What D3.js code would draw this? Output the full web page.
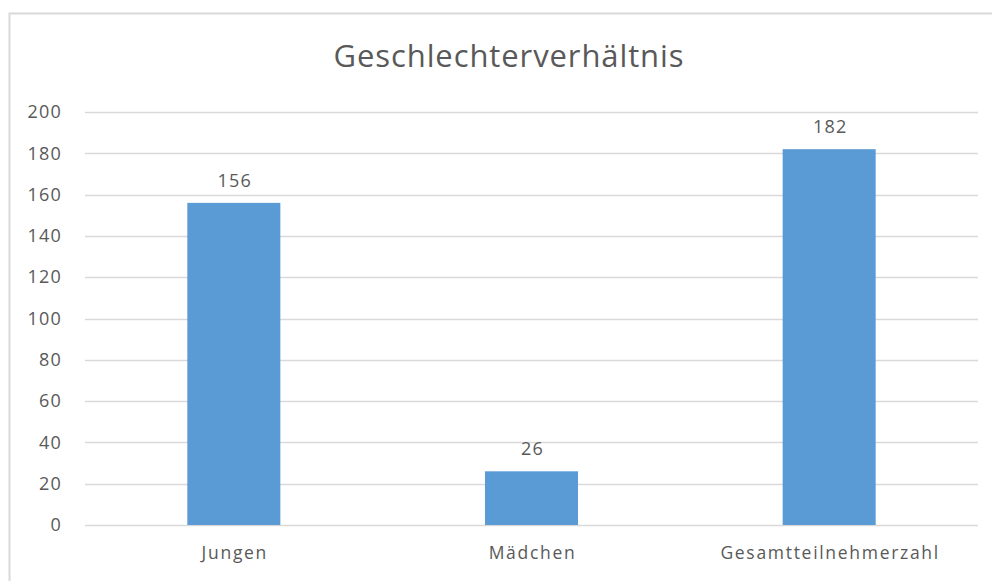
<!DOCTYPE html>
<html>
<head>
<meta charset="utf-8">
<script src="https://cdn.jsdelivr.net/npm/d3@7"></script>
<style>
  body { margin: 0; background: #fff; }
  svg text { font-family: "Open Sans", Lato, sans-serif; fill: #595959; }
</style>
</head>
<body>
<div id="chart"></div>
<script>
const categories = ['Jungen', 'Mädchen', 'Gesamtteilnehmerzahl']
const values = [156, 26, 182]
const yTicks = [0, 20, 40, 60, 80, 100, 120, 140, 160, 180, 200]
const title = 'Geschlechterverhältnis'

const width = 992
const height = 581
const margin = { top: 112, right: 14, bottom: 56, left: 85 }

const svg = d3.select('#chart').append('svg')
  .attr('width', width)
  .attr('height', height)

// chart frame, runs off the right and bottom edge
svg.append('rect')
  .attr('x', 9.5)
  .attr('y', 13.5)
  .attr('width', 1000)
  .attr('height', 600)
  .attr('fill', 'none')
  .attr('stroke', '#d9d9d9')
  .attr('stroke-width', 2)

const x = d3.scaleBand()
  .domain(categories)
  .range([margin.left, width - margin.right])
  .paddingInner(0.6875)
  .paddingOuter(0.34375)

const y = d3.scaleLinear()
  .domain([0, 200])
  .range([height - margin.bottom, margin.top])

// gridlines
svg.append('g')
  .selectAll('line')
  .data(yTicks)
  .join('line')
  .attr('x1', margin.left)
  .attr('x2', width - margin.right)
  .attr('y1', d => Math.round(y(d)) + 0.5)
  .attr('y2', d => Math.round(y(d)) + 0.5)
  .attr('stroke', '#d9d9d9')
  .attr('stroke-width', 1.5)

// y axis labels
const yAxis = svg.append('g')
  .attr('transform', 'translate(' + margin.left + ',0)')
  .call(d3.axisLeft(y).tickValues(yTicks).tickSize(0).tickPadding(23))
yAxis.select('.domain').remove()
yAxis.selectAll('text')
  .attr('font-size', 18)
  .attr('letter-spacing', 1.2)
  .attr('fill', '#595959')

svg.append('g')
  .selectAll('rect')
  .data(values)
  .join('rect')
  .attr('x', (d, i) => x(categories[i]))
  .attr('y', d => y(d))
  .attr('width', x.bandwidth())
  .attr('height', d => y(0) - y(d))
  .attr('fill', '#5b9bd5')

// data labels
svg.append('g')
  .selectAll('text')
  .data(values)
  .join('text')
  .attr('x', (d, i) => x(categories[i]) + x.bandwidth() / 2 + 1)
  .attr('y', d => y(d) - 16)
  .attr('text-anchor', 'middle')
  .attr('font-size', 18)
  .attr('letter-spacing', 1.2)
  .text(d => d)

// x axis labels
const xAxis = svg.append('g')
  .attr('transform', 'translate(0,' + (height - margin.bottom) + ')')
  .call(d3.axisBottom(x).tickSize(0).tickPadding(22))
xAxis.select('.domain').remove()
xAxis.selectAll('text')
  .attr('font-size', 17.5)
  .attr('fill', '#595959')
  .attr('letter-spacing', 1.7)
  .attr('dx', 1)

svg.append('text')
  .attr('x', 509)
  .attr('y', 67)
  .attr('text-anchor', 'middle')
  .attr('font-size', 31)
  .attr('letter-spacing', 0.9)
  .text(title)
</script>
</body>
</html>
